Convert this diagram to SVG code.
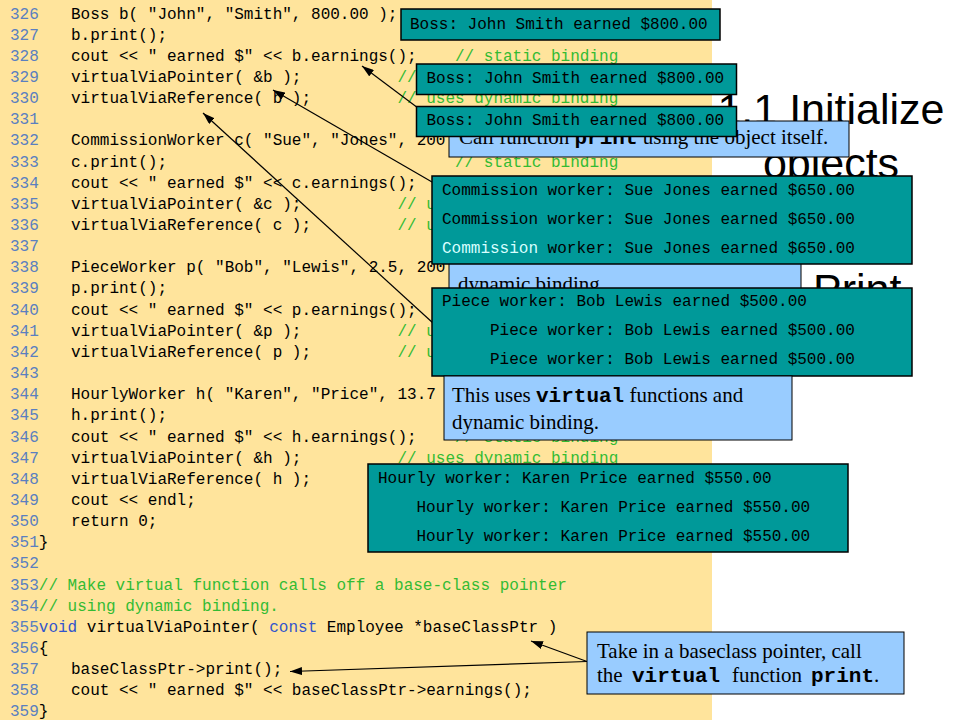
<svg xmlns="http://www.w3.org/2000/svg" width="960" height="720" viewBox="0 0 960 720">
<defs>
<style>
.code{font-family:"Liberation Mono","Courier New",monospace;font-size:16px;fill:#000}
.ln{fill:#5A7FC0}
.cm{fill:#33BB33}
.kw{fill:#3355CC}
.teal{fill:#009999;stroke:#000;stroke-width:1.5}
.call{fill:#99CCFF;stroke:#000;stroke-width:1}
.ct{font-family:"Liberation Serif","Times New Roman",serif;font-size:21px;fill:#000}
.mb{font-family:"Liberation Mono","Courier New",monospace;font-weight:bold}
.title{font-family:"Liberation Sans",Arial,sans-serif;font-size:43px;fill:#000}
.conn{stroke:#000;stroke-width:1.2;fill:none;marker-end:url(#ah)}
</style>
<marker id="ah" viewBox="0 0 12 8" refX="12" refY="4" markerWidth="12" markerHeight="8" markerUnits="userSpaceOnUse" orient="auto">
<path d="M0,0 L12,4 L0,8 z" fill="#000"/>
</marker>
</defs>
<rect x="0" y="0" width="960" height="720" fill="#FFFFFF"/>
<rect x="0" y="0" width="712" height="720" fill="#FFE49C"/>

<g id="titles">
<text class="title" x="831" y="124" text-anchor="middle">1.1 Initialize</text>
<text class="title" x="831" y="178" text-anchor="middle">objects</text>
<text class="title" x="813" y="304">Print</text>
</g>

<g id="code" class="code">
<g class="ln">
<text x="10" y="18.5">326</text><text x="10" y="39.65">327</text><text x="10" y="60.8">328</text><text x="10" y="81.95">329</text>
<text x="10" y="103.1">330</text><text x="10" y="124.25">331</text><text x="10" y="145.4">332</text><text x="10" y="166.55">333</text>
<text x="10" y="187.7">334</text><text x="10" y="208.85">335</text><text x="10" y="230">336</text><text x="10" y="251.15">337</text>
<text x="10" y="272.3">338</text><text x="10" y="293.45">339</text><text x="10" y="314.6">340</text><text x="10" y="335.75">341</text>
<text x="10" y="356.9">342</text><text x="10" y="378.05">343</text><text x="10" y="399.2">344</text><text x="10" y="420.35">345</text>
<text x="10" y="441.5">346</text><text x="10" y="462.65">347</text><text x="10" y="483.8">348</text><text x="10" y="504.95">349</text>
<text x="10" y="526.1">350</text><text x="10" y="547.25">351</text><text x="10" y="568.4">352</text><text x="10" y="589.55">353</text>
<text x="10" y="610.7">354</text><text x="10" y="631.85">355</text><text x="10" y="653">356</text><text x="10" y="674.15">357</text>
<text x="10" y="695.3">358</text><text x="10" y="716.45">359</text>
</g>
<text x="71" y="18.5">Boss b( "John", "Smith", 800.00 );</text>
<text x="71" y="39.65">b.print();</text>
<text x="71" y="60.8">cout &lt;&lt; " earned $" &lt;&lt; b.earnings();</text>
<text x="455" y="60.8" class="cm">// static binding</text>
<text x="71" y="81.95">virtualViaPointer( &amp;b );</text>
<text x="397.4" y="81.95" class="cm">//</text>
<text x="71" y="103.1">virtualViaReference( b );</text>
<text x="397.4" y="103.1" class="cm">// uses dynamic binding</text>
<text x="71" y="145.4">CommissionWorker c( "Sue", "Jones", 200</text>
<text x="71" y="166.55">c.print();</text>
<text x="455" y="166.55" class="cm">// static binding</text>
<text x="71" y="187.7">cout &lt;&lt; " earned $" &lt;&lt; c.earnings();</text>
<text x="71" y="208.85">virtualViaPointer( &amp;c );</text>
<text x="397.4" y="208.85" class="cm">// u</text>
<text x="71" y="230">virtualViaReference( c );</text>
<text x="397.4" y="230" class="cm">// u</text>
<text x="71" y="272.3">PieceWorker p( "Bob", "Lewis", 2.5, 200</text>
<text x="71" y="293.45">p.print();</text>
<text x="71" y="314.6">cout &lt;&lt; " earned $" &lt;&lt; p.earnings();</text>
<text x="71" y="335.75">virtualViaPointer( &amp;p );</text>
<text x="397.4" y="335.75" class="cm">// u</text>
<text x="71" y="356.9">virtualViaReference( p );</text>
<text x="397.4" y="356.9" class="cm">// u</text>
<text x="71" y="399.2">HourlyWorker h( "Karen", "Price", 13.7</text>
<text x="71" y="420.35">h.print();</text>
<text x="71" y="441.5">cout &lt;&lt; " earned $" &lt;&lt; h.earnings();</text>
<text x="455" y="441.5" class="cm">// static binding</text>
<text x="71" y="462.65">virtualViaPointer( &amp;h );</text>
<text x="397.4" y="462.65" class="cm">// uses dynamic binding</text>
<text x="71" y="483.8">virtualViaReference( h );</text>
<text x="71" y="504.95">cout &lt;&lt; endl;</text>
<text x="71" y="526.1">return 0;</text>
<text x="38.8" y="547.25">}</text>
<text x="38.8" y="589.55" class="cm">// Make virtual function calls off a base-class pointer</text>
<text x="38.8" y="610.7" class="cm">// using dynamic binding.</text>
<text x="38.8" y="631.85"><tspan class="kw">void</tspan> virtualViaPointer( <tspan class="kw">const</tspan> Employee *baseClassPtr )</text>
<text x="38.8" y="653">{</text>
<text x="71" y="674.15">baseClassPtr-&gt;print();</text>
<text x="71" y="695.3">cout &lt;&lt; " earned $" &lt;&lt; baseClassPtr-&gt;earnings();</text>
<text x="38.8" y="716.45">}</text>
</g>

<g id="connectors">
<line class="conn" x1="430" y1="117" x2="362" y2="66"/>
<line class="conn" x1="445" y1="189.5" x2="273" y2="90"/>
<line class="conn" x1="445" y1="334" x2="203" y2="113"/>
<line class="conn" x1="587" y1="661.5" x2="531" y2="641"/>
<line class="conn" x1="587" y1="661.5" x2="290" y2="671.5"/>
</g>

<g id="note-dynamic">
<rect class="call" x="449" y="250" width="352" height="50"/>
<text class="ct" x="458" y="291">dynamic binding</text>
</g>
<g id="note-call-print">
<rect class="call" x="449" y="121" width="400" height="36"/>
<text class="ct" x="459" y="144">Call function <tspan class="mb">print</tspan> using the object itself.</text>
</g>
<g id="out-boss-1" class="code">
<rect class="teal" x="401" y="9" width="319" height="31"/>
<text x="410" y="29.3">Boss: John Smith earned $800.00</text>
</g>
<g id="out-boss-2" class="code">
<rect class="teal" x="416.5" y="64" width="320" height="30.5"/>
<text x="426.5" y="83.3">Boss: John Smith earned $800.00</text>
</g>
<g id="out-boss-3" class="code">
<rect class="teal" x="416.5" y="106.5" width="320" height="30"/>
<text x="426.5" y="125">Boss: John Smith earned $800.00</text>
</g>
<g id="out-commission" class="code">
<rect class="teal" x="432" y="176" width="480" height="88"/>
<text x="442" y="195">Commission worker: Sue Jones earned $650.00</text>
<text x="442" y="223.5">Commission worker: Sue Jones earned $650.00</text>
<text x="442" y="252.5"><tspan fill="#D8FFFF">Commission</tspan> worker: Sue Jones earned $650.00</text>
</g>
<g id="out-piece" class="code">
<rect class="teal" x="432" y="288" width="480" height="88"/>
<text x="442" y="306">Piece worker: Bob Lewis earned $500.00</text>
<text x="490" y="335">Piece worker: Bob Lewis earned $500.00</text>
<text x="490" y="364">Piece worker: Bob Lewis earned $500.00</text>
</g>
<g id="note-virtual">
<rect class="call" x="444" y="376" width="348" height="64"/>
<text class="ct" x="452" y="402">This uses <tspan class="mb">virtual</tspan> functions and</text>
<text class="ct" x="452" y="428.5">dynamic binding.</text>
</g>
<g id="out-hourly" class="code">
<rect class="teal" x="368" y="464" width="480" height="88"/>
<text x="378" y="482.5">Hourly worker: Karen Price earned $550.00</text>
<text x="416.5" y="511.5">Hourly worker: Karen Price earned $550.00</text>
<text x="416.5" y="540.5">Hourly worker: Karen Price earned $550.00</text>
</g>
<g id="note-baseclass">
<rect class="call" x="587" y="632" width="317" height="62"/>
<text class="ct" x="597" y="658">Take in a baseclass pointer, call</text>
<text class="ct" x="597" y="682">the <tspan class="mb" x="632">virtual</tspan><tspan x="732">function</tspan><tspan class="mb" x="811">print</tspan>.</text>
</g>
</svg>
